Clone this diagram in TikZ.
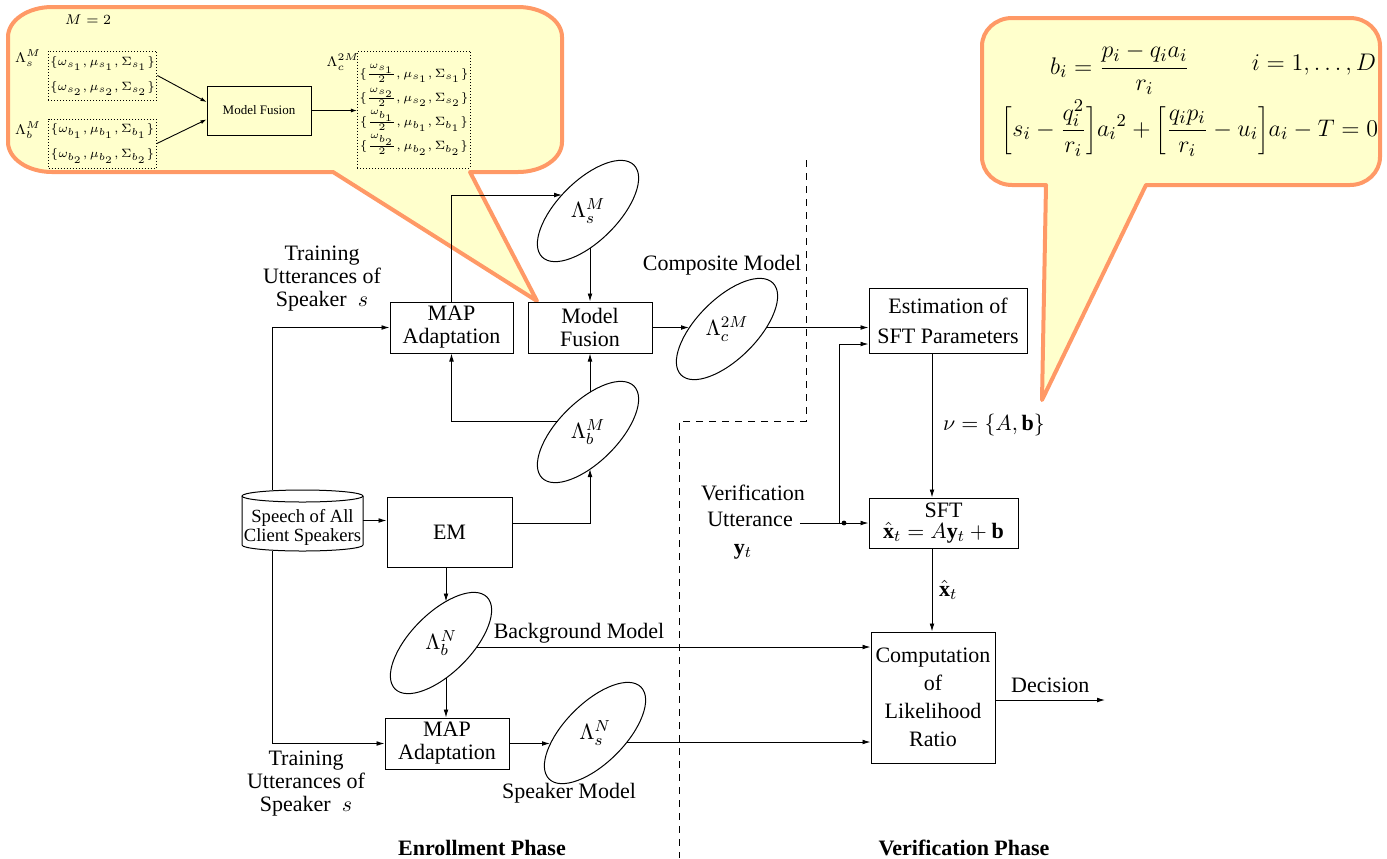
\documentclass[tikz,border=0pt]{standalone}
\usepackage{fontspec}
\setmainfont{Liberation Serif}
\usetikzlibrary{arrows.meta,calc,shapes.geometric}
\definecolor{cfill}{HTML}{FFFFCC}
\definecolor{cborder}{HTML}{FF9966}
\begin{document}
\begin{tikzpicture}[x=0.5pt,y=-0.5pt,
  every node/.style={font=\fontsize{11}{11.5}\selectfont},
  arr/.style={-{Latex[length=4pt,width=2.4pt]}, line width=0.45pt},
  sarr/.style={-{Latex[length=3pt,width=2pt]}, line width=0.45pt},
  blk/.style={draw, line width=0.5pt, inner sep=1pt, align=center},
  ell/.style={draw, ellipse, line width=0.5pt, inner sep=0pt, minimum width=65pt, minimum height=30pt, rotate=45},
  dotbox/.style={draw, densely dotted, line width=0.5pt, inner sep=1pt, align=center, font=\fontsize{6}{12.5}\selectfont},
  callout/.style={fill=cfill, draw=cborder, line width=2pt, line join=round},
  phase/.style={font=\fontsize{11}{13}\selectfont\bfseries},
  dashline/.style={line width=0.5pt, dash pattern=on 3.5pt off 3pt}
]
\useasboundingbox (0,0) rectangle (1387,858);

% ---------- callouts ----------
\filldraw[callout] (537,301) -- (470,172) -- (518,172)
  arc[start angle=270,end angle=360,x radius=22pt,y radius=15pt] -- (562,37)
  arc[start angle=0,end angle=90,x radius=22pt,y radius=15pt] -- (52,7)
  arc[start angle=90,end angle=180,x radius=22pt,y radius=15pt] -- (8,142)
  arc[start angle=180,end angle=270,x radius=22pt,y radius=15pt] -- (333,172) -- cycle;
\filldraw[callout] (1042,400) -- (1146,185) -- (1350,185)
  arc[start angle=270,end angle=360,x radius=15pt,y radius=14pt] -- (1380,46)
  arc[start angle=0,end angle=90,x radius=15pt,y radius=14pt] -- (1012,18)
  arc[start angle=90,end angle=180,x radius=15pt,y radius=14pt] -- (982,157)
  arc[start angle=180,end angle=270,x radius=15pt,y radius=14pt] -- (1046,185) -- cycle;

% left callout content
\node[font=\fontsize{7.5}{9}\selectfont] (m2) at (88,20) {$M=2$};
\node[font=\fontsize{7.5}{9}\selectfont] (cls) at (28,58) {$\Lambda_s^M$};
\node[font=\fontsize{7.5}{9}\selectfont] (clb) at (28,130) {$\Lambda_b^M$};
\node[font=\fontsize{7.5}{9}\selectfont] (clc) at (343,62) {$\Lambda_c^{2M}$};
\node[dotbox, minimum width=52.5pt, minimum height=24.5pt] (b1) at (102.5,75.5)
  {$\{\omega_{s_1},\mu_{s_1},\Sigma_{s_1}\}$\\$\{\omega_{s_2},\mu_{s_2},\Sigma_{s_2}\}$};
\node[dotbox, minimum width=52.5pt, minimum height=24.5pt] (b2) at (102.5,143.5)
  {$\{\omega_{b_1},\mu_{b_1},\Sigma_{b_1}\}$\\$\{\omega_{b_2},\mu_{b_2},\Sigma_{b_2}\}$};
\node[dotbox, font=\fontsize{6}{12}\selectfont, minimum width=52pt, minimum height=58.5pt] (b3) at (414,109.5)
  {$\{\frac{\omega_{s_1}}{2},\mu_{s_1},\Sigma_{s_1}\}$\\$\{\frac{\omega_{s_2}}{2},\mu_{s_2},\Sigma_{s_2}\}$\\
   $\{\frac{\omega_{b_1}}{2},\mu_{b_1},\Sigma_{b_1}\}$\\$\{\frac{\omega_{b_2}}{2},\mu_{b_2},\Sigma_{b_2}\}$};
\node[draw, line width=0.5pt, minimum width=52pt, minimum height=24.5pt, font=\fontsize{6.5}{8}\selectfont] (smf) at (259,110.5) {Model Fusion};
\draw[sarr] (b1.east) -- ($(smf.west)+(0,-8.5)$);
\draw[sarr] (b2.east) -- ($(smf.west)+(0,9)$);
\draw[sarr] (smf.east) -- (smf.east -| b3.west);

% right callout content
\node[font=\fontsize{12.5}{15}\selectfont] (f1) at (1120,69) {$\displaystyle b_i=\frac{p_i-q_ia_i}{r_i}$};
\node[font=\fontsize{12.5}{15}\selectfont] (f2) at (1314,65) {$i=1,\ldots,D$};
\node[font=\fontsize{12.5}{15}\selectfont] (f3) at (1190,128)
  {$\displaystyle\biggl[s_i-\frac{q_i^2}{r_i}\biggr]{a_i}^2+\biggl[\frac{q_ip_i}{r_i}-u_i\biggr]a_i-T=0$};

% ---------- dashed separator ----------
\draw[dashline] (806,160) -- (806,421) -- (679,421) -- (679,858);

% ---------- blocks ----------
\node[blk, minimum width=61.5pt, minimum height=25.5pt] (map1) at (451.5,327.5) {MAP\\Adaptation};
\node[blk, minimum width=62pt, minimum height=25.5pt] (mf) at (590,327.5) {Model\\Fusion};
\node[blk, minimum width=62.5pt, minimum height=35pt] (em) at (449.5,532) {EM};
\node[blk, minimum width=62pt, minimum height=25.5pt] (map2) at (447,743.5) {MAP\\Adaptation};
\node[blk, font=\fontsize{11}{15}\selectfont, minimum width=79pt, minimum height=32.5pt] (est) at (948,320.5) {Estimation of\\SFT Parameters};
\node[blk, font=\fontsize{11}{10.5}\selectfont, minimum width=74.5pt, minimum height=25pt] (sft) at (943.5,523) {SFT\\$\hat{\mathbf{x}}_t=A\mathbf{y}_t+\mathbf{b}$};
\node[blk, font=\fontsize{11}{14}\selectfont, minimum width=62pt, minimum height=65.5pt] (comp) at (933,697.5) {Computation\\of\\Likelihood\\Ratio};

% cylinder
\node[inner sep=0pt, minimum width=60.5pt, minimum height=30.5pt] (cyl) at (302.5,520.5) {};
\draw[line width=0.5pt] (242,496) -- (242,545)
  arc[start angle=180,end angle=360,x radius=30.25pt,y radius=3pt] -- (363,496);
\draw[line width=0.5pt] (302.5,496) ellipse[x radius=30.25pt, y radius=3pt];
\node[align=center, font=\fontsize{9.3}{9.5}\selectfont, inner sep=0pt] (cyltxt) at (302.5,527) {Speech of All\\Client Speakers};

% ellipses
\node[ell] (Ls) at (588,211) {};
\node (Lst) at (Ls) {$\Lambda_s^M$};
\node[ell] (Lbm) at (588,432) {};
\node (Lbmt) at (Lbm) {$\Lambda_b^M$};
\node[ell] (Lc) at (727,329) {};
\node (Lct) at (Lc) {$\Lambda_c^{2M}$};
\node[ell] (LbN) at (441,643) {};
\node (LbNt) at (LbN) {$\Lambda_b^N$};
\node[ell] (LsN) at (595,733) {};
\node (LsNt) at (LsN) {$\Lambda_s^N$};

% contact points on ellipse borders
\coordinate (lsIn) at (562,195);
\coordinate (lsBot) at (590,248);
\coordinate (lbmTop) at (590,392);
\coordinate (lbmLeft) at (557.5,421);
\coordinate (lbmBot) at (590,469);
\coordinate (lcL) at (689,327.5);
\coordinate (lcR) at (766,327.5);
\coordinate (lbnTop) at (446,601.5);
\coordinate (lbnBot) at (446,678);
\coordinate (lbnR) at (477,647);
\coordinate (lsnL) at (550,743.5);
\coordinate (lsnR) at (627,742);
\coordinate (lx) at (272,0);
\coordinate (vx) at (932,0);
\coordinate (vjx) at (839,0);
\coordinate (dec) at (1105,700);

% labels
\node[align=center] (tr1) at (322,279) {Training\\Utterances of\\Speaker\enspace$s$};
\node[align=center] (tr2) at (306,784) {Training\\Utterances of\\Speaker\enspace$s$};
\node (cm) at (722,265) {Composite Model};
\node (bm) at (579,633) {Background Model};
\node (sm) at (569,793) {Speaker Model};
\node (ver) at (753,493) {Verification};
\node (ut) at (750,519) {Utterance};
\node (yt) at (743,552) {$\mathbf{y}_t$};
\node[phase] (ep) at (482,848) {Enrollment Phase};
\node[phase] (vp) at (964,848) {Verification Phase};

% ---------- connectors ----------
\draw[arr] (cyl.north -| lx) |- (map1.west);
\draw[arr] (cyl.south -| lx) |- (map2.west);
\draw[arr] (cyl.east) -- (cyl.east -| em.west);
\draw[arr] (map1.north) |- (lsIn);
\draw[arr] (lsBot) -- (lsBot |- mf.north);
\draw[arr] (lbmTop) -- (lbmTop |- mf.south);
\draw[arr] (lbmLeft) -| (map1.south);
\draw[arr] ($(em.east)+(0,-9)$) -| (lbmBot);
\draw[arr] (lbnTop |- em.south) -- (lbnTop);
\draw[arr] (lbnBot) -- (lbnBot |- map2.north);
\draw[arr] (map2.east) -- (lsnL);
\draw[arr] (lsnR) -- (lsnR -| comp.west);
\draw[arr] (lbnR) -- (lbnR -| comp.west);
\draw[arr] (mf.east) -- (lcL);
\draw[arr] (lcR) -- (lcR -| est.west);
\draw[arr] (ut.east |- sft.west) -- (sft.west);
\draw[arr] (vjx |- sft.west) |- ($(est.west)+(0,23.5)$);
\node[circle, fill, inner sep=0pt, minimum size=2.4pt] (dot) at (844,523) {};
\draw[arr] (est.south -| vx) -- (sft.north -| vx) node[midway, right, xshift=2pt] {$\nu=\{A,\mathbf{b}\}$};
\draw[arr] (sft.south -| vx) -- (comp.north -| vx) node[midway, right] {$\hat{\mathbf{x}}_t$};
\draw[arr] (dec -| comp.east) -- (dec) node[midway, above] {Decision};
\end{tikzpicture}
\end{document}
